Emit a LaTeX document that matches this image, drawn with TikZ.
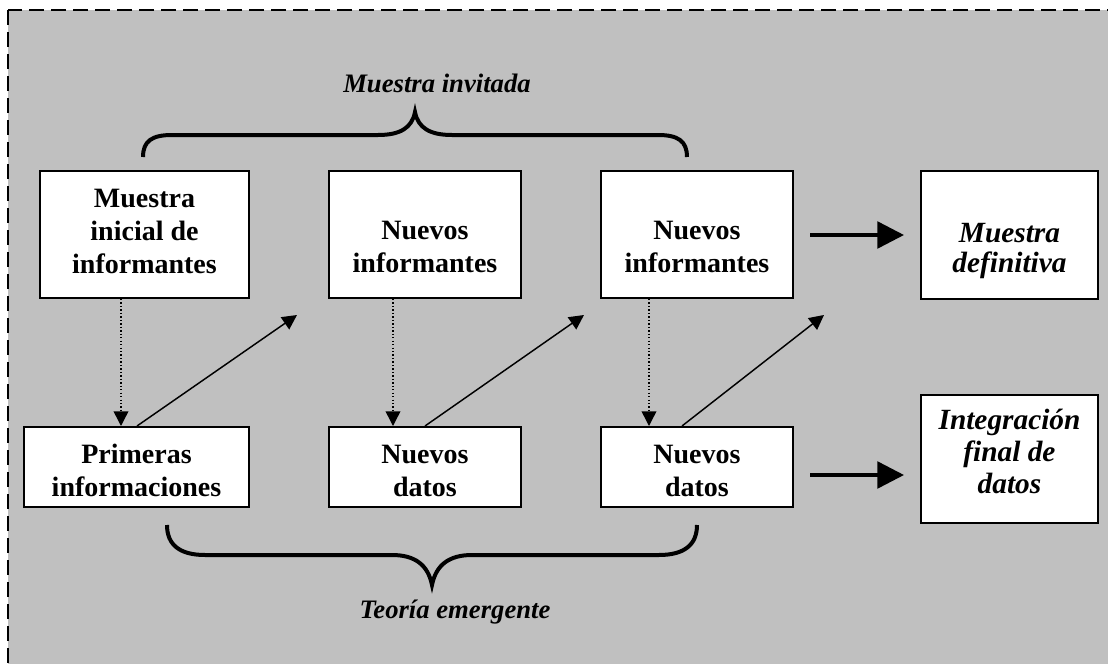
\documentclass[tikz,border=0pt]{standalone}
\usepackage{fontspec}
\setmainfont{Liberation Serif}
\usetikzlibrary{arrows.meta,calc}
\definecolor{bg}{HTML}{C0C0C0}
\newcommand\boxtext[2]{\raisebox{#1}[\height][\depth]{\begin{tabular}{@{}c@{}}#2\end{tabular}}}
\tikzset{
  box/.style={draw=black, line width=1.5pt, fill=white, align=center, inner sep=0pt,
    font=\fontsize{21}{24.75}\selectfont\bfseries},
  ibox/.style={box, font=\fontsize{22}{24}\selectfont\bfseries\itshape},
  lbl/.style={anchor=base, font=\fontsize{20}{24}\selectfont\bfseries\itshape},
  thinarrow/.style={line width=1.1pt, -{Triangle[length=11pt,width=11pt]}},
  dotarrow/.style={thinarrow, dash pattern=on 1pt off 1.6pt},
  thickarrow/.style={line width=2.6pt, -{Triangle[length=20pt,width=20pt]}},
  bracestyle/.style={line width=3pt},
}
\begin{document}
\begin{tikzpicture}[x=0.75pt, y=-0.75pt]
\fill[white] (0,0) rectangle (1108,664);
\clip (0,0) rectangle (1108,664);
\draw[fill=bg, line width=1.5pt, dash pattern=on 11pt off 5.5pt] (8,10) rectangle (1140,700);

% top row
\node[box, minimum width=156.75pt, minimum height=95.25pt] (b1) at (144.5,234.5) {\boxtext{0.5pt}{Muestra\\inicial de\\informantes}};
\node[box, minimum width=144pt, minimum height=95.25pt] (b2) at (425,234.5) {\boxtext{-11.5pt}{Nuevos\\informantes}};
\node[box, minimum width=144pt, minimum height=95.25pt] (b3) at (697,234.5) {\boxtext{-11.5pt}{Nuevos\\informantes}};
\node[ibox, minimum width=132.75pt, minimum height=96pt] (b4) at (1009.5,235)
  {\fontsize{22}{22.5}\selectfont\boxtext{-12pt}{Muestra\\definitiva}};

% bottom row
\node[box, minimum width=168.75pt, minimum height=60pt] (p1) at (136.5,467) {\boxtext{-4.5pt}{Primeras\\informaciones}};
\node[box, minimum width=144pt, minimum height=60pt] (p2) at (425,467) {\boxtext{-4.5pt}{Nuevos\\datos}};
\node[box, minimum width=144pt, minimum height=60pt] (p3) at (697,467) {\boxtext{-4.5pt}{Nuevos\\datos}};
\node[ibox, minimum width=132.75pt, minimum height=96pt] (p4) at (1009.5,459) {\boxtext{3.3pt}{Integración\\final de\\datos}};

% labels
\node[lbl] (lmi) at (437,92) {Muestra invitada};
\node[lbl] (lte) at (455,618) {Teoría emergente};

% braces
\draw[bracestyle] (143,157) .. controls (143,141) and (152,135) .. (172,135) -- (378,135)
  .. controls (400,135) and (412,128) .. (415,112)
  .. controls (418,128) and (430,135) .. (452,135) -- (658,135)
  .. controls (678,135) and (687,141) .. (687,157);
\draw[bracestyle] (167,525) .. controls (167,545) and (180,555) .. (205,555) -- (392,555)
  .. controls (415,555) and (428,565) .. (432,585)
  .. controls (436,565) and (449,555) .. (472,555) -- (659,555)
  .. controls (684,555) and (697,545) .. (697,525);

% dotted down arrows
\draw[dotarrow] ($(b1.south)+(-23.5,0)$) -- ($(p1.north)+(-15.5,0)$);
\draw[dotarrow] ($(b2.south)+(-32,0)$) -- ($(p2.north)+(-32,0)$);
\draw[dotarrow] ($(b3.south)+(-48,0)$) -- ($(p3.north)+(-48,0)$);

% diagonal arrows
\coordinate (t1) at (297,315);
\coordinate (t2) at (584,315);
\coordinate (t3) at (824,315);
\draw[thinarrow] ($(p1.north)+(0.5,0)$) -- (t1);
\draw[thinarrow] (p2.north) -- (t2);
\draw[thinarrow] ($(p3.north)+(-15,0)$) -- (t3);

% thick arrows
\draw[thickarrow] ($(b3.east)+(16,0.5)$) -- ($(b4.west)+(-16,0)$);
\draw[thickarrow] ($(p3.east)+(16,8)$) -- ($(p4.west)+(-16,16)$);
\end{tikzpicture}
\end{document}
